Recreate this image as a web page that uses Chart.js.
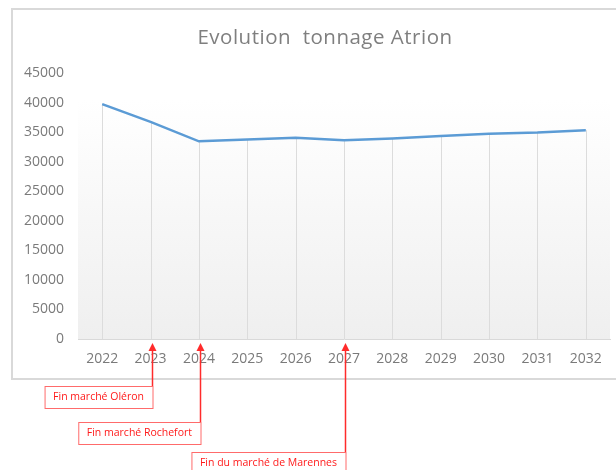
<!DOCTYPE html>
<html>
<head>
<meta charset="utf-8">
<script src="https://cdn.jsdelivr.net/npm/chart.js@4.4.0/dist/chart.umd.min.js"></script>
<style>
  html, body { margin: 0; padding: 0; background: #ffffff; }
  #wrap { width: 616px; height: 470px; position: relative; overflow: hidden; }
</style>
</head>
<body>
<div id="wrap"><canvas id="c" width="616" height="470"></canvas></div>
<script>
// ---- data ----
const years = ['2022','2023','2024','2025','2026','2027','2028','2029','2030','2031','2032'];
const tonnage = [39800, 36800, 33500, 33800, 34100, 33700, 34000, 34400, 34800, 35000, 35400];
const yTicks = [0, 5000, 10000, 15000, 20000, 25000, 30000, 35000, 40000, 45000];
const titleText = 'Evolution  tonnage Atrion';
const noteYears = ['2023', '2024', '2027'];
const noteTexts = ['Fin marché Oléron', 'Fin marché Rochefort', 'Fin du marché de Marennes'];

const FONT = "'Open Sans', 'Noto Sans', sans-serif";

const framePlugin = {
  id: 'framePlugin',
  beforeDraw(chart) {
    const ctx = chart.ctx;
    const a = chart.chartArea;
    ctx.save();
    // outer chart frame
    ctx.strokeStyle = '#d9d9d9';
    ctx.lineWidth = 2;
    ctx.strokeRect(12, 9, 700, 370);
    // plot area gradient
    const g = ctx.createLinearGradient(0, a.top, 0, a.bottom);
    g.addColorStop(0, '#ffffff');
    g.addColorStop(0.1, '#ffffff');
    g.addColorStop(1, '#efefef');
    ctx.fillStyle = g;
    ctx.fillRect(a.left, a.top, a.right - a.left, a.bottom - a.top);
    // title
    ctx.fillStyle = '#7f7f7f';
    ctx.font = "20.5px " + FONT;
    if ('letterSpacing' in ctx) ctx.letterSpacing = '0.5px';
    ctx.textAlign = 'center';
    ctx.textBaseline = 'middle';
    ctx.fillText(titleText, 325, 38);
    ctx.restore();
  },
  beforeDatasetsDraw(chart) {
    // drop lines from each point to the category axis
    const ctx = chart.ctx;
    const meta = chart.getDatasetMeta(0);
    const bottom = chart.scales.y.getPixelForValue(0);
    ctx.save();
    ctx.strokeStyle = '#dcdcdc';
    ctx.lineWidth = 1;
    meta.data.forEach(p => {
      const x = Math.round(p.x) + 0.5;
      ctx.beginPath();
      ctx.moveTo(x, p.y);
      ctx.lineTo(x, bottom);
      ctx.stroke();
    });
    ctx.restore();
  },
  afterDraw(chart) {
    const ctx = chart.ctx;
    const xs = chart.scales.x;
    const ys = chart.scales.y;
    const tipY = ys.getPixelForValue(0) + 4;
    const boxTops = [386, 422, 452];
    ctx.save();
    ctx.font = "10.5px " + FONT;
    ctx.textBaseline = 'middle';
    noteYears.forEach((yr, i) => {
      const x = Math.round(xs.getPixelForValue(years.indexOf(yr))) + 1.5;
      const tw = ctx.measureText(noteTexts[i]).width;
      const bw = tw + 17;
      const bh = 22;
      const top = boxTops[i];
      // box
      ctx.strokeStyle = '#ff6b6b';
      ctx.lineWidth = 1;
      ctx.fillStyle = '#ffffff';
      ctx.fillRect(x - bw, top, bw, bh);
      ctx.strokeRect(x - bw + 0.5, top + 0.5, bw, bh);
      // text
      ctx.fillStyle = '#ff1a1a';
      ctx.textAlign = 'left';
      ctx.fillText(noteTexts[i], x - bw + 8.5, top + bh / 2 + 0.5);
      // arrow
      ctx.strokeStyle = '#ff2b2b';
      ctx.lineWidth = 1.5;
      ctx.beginPath();
      ctx.moveTo(x, top);
      ctx.lineTo(x, tipY + 6);
      ctx.stroke();
      ctx.fillStyle = '#ff2b2b';
      ctx.beginPath();
      ctx.moveTo(x, tipY);
      ctx.lineTo(x - 4, tipY + 8);
      ctx.lineTo(x + 4, tipY + 8);
      ctx.closePath();
      ctx.fill();
    });
    ctx.restore();
  }
};

new Chart(document.getElementById('c'), {
  type: 'line',
  data: {
    labels: years,
    datasets: [{
      data: tonnage,
      borderColor: '#5b9bd5',
      borderWidth: 2.5,
      pointRadius: 0,
      tension: 0,
      fill: false
    }]
  },
  options: {
    responsive: false,
    animation: false,
    devicePixelRatio: 1,
    layout: { padding: { left: 0, right: 6, top: 73.5, bottom: 0 } },
    plugins: {
      legend: { display: false },
      tooltip: { enabled: false },
      title: { display: false }
    },
    scales: {
      x: {
        offset: true,
        grid: { display: false, drawTicks: false },
        border: { display: true, color: '#d9d9d9', width: 1 },
        ticks: { color: '#7a7a7a', font: { family: FONT, size: 14 }, padding: 12, maxRotation: 0 },
        afterFit(s) { s.height = 131; }
      },
      y: {
        min: 0,
        max: 45000,
        grid: { display: false, drawTicks: false },
        border: { display: false },
        afterBuildTicks(s) { s.ticks = yTicks.map(v => ({ value: v })); },
        ticks: { color: '#7a7a7a', font: { family: FONT, size: 14 }, padding: 14, callback: v => String(v) },
        afterFit(s) { s.width = 78; }
      }
    }
  },
  plugins: [framePlugin]
});
</script>
</body>
</html>
